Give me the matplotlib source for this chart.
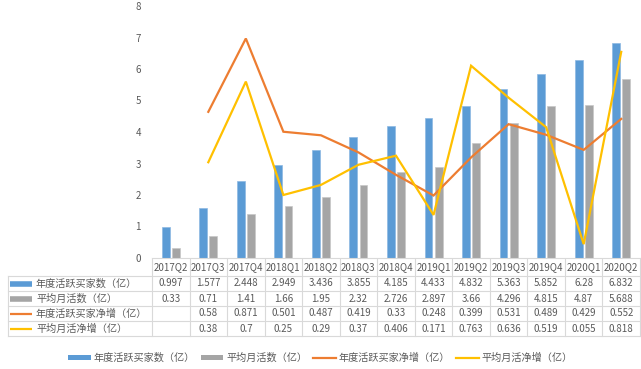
import matplotlib
matplotlib.use("Agg")
import matplotlib.pyplot as plt
import matplotlib.transforms as mtransforms
from matplotlib.lines import Line2D
from matplotlib.patches import Patch
import numpy as np

plt.rcParams['font.family'] = ['Noto Sans CJK SC', 'DejaVu Sans']

quarters = ["2017Q2", "2017Q3", "2017Q4", "2018Q1", "2018Q2", "2018Q3", "2018Q4",
            "2019Q1", "2019Q2", "2019Q3", "2019Q4", "2020Q1", "2020Q2"]
annual_buyers = [0.997, 1.577, 2.448, 2.949, 3.436, 3.855, 4.185, 4.433, 4.832, 5.363, 5.852, 6.28, 6.832]
monthly_active = [0.33, 0.71, 1.41, 1.66, 1.95, 2.32, 2.726, 2.897, 3.66, 4.296, 4.815, 4.87, 5.688]
buyers_net = [None, 0.58, 0.871, 0.501, 0.487, 0.419, 0.33, 0.248, 0.399, 0.531, 0.489, 0.429, 0.552]
mau_net = [None, 0.38, 0.7, 0.25, 0.29, 0.37, 0.406, 0.171, 0.763, 0.636, 0.519, 0.055, 0.818]
series_names = ["年度活跃买家数（亿）", "平均月活数（亿）", "年度活跃买家净增（亿）", "平均月活净增（亿）"]
y_ticks = [0, 1, 2, 3, 4, 5, 6, 7, 8]

c_blue = "#5B9BD5"
c_gray = "#A5A5A5"
c_orange = "#ED7D31"
c_yellow = "#FFC000"
txt = "#595959"
grid_c = "#D9D9D9"

W, H = 641, 369
fig = plt.figure(figsize=(W / 100, H / 100), dpi=100)

left_px, right_px, top_px, bottom_px = 152, 640, 6, 258
ax = fig.add_axes([left_px / W, 1 - bottom_px / H, (right_px - left_px) / W, (bottom_px - top_px) / H])
x = np.arange(len(quarters))
bw = 0.21
ax.bar(x - 0.135, annual_buyers, bw, color=c_blue, edgecolor="#8DB8E3", linewidth=0.5, zorder=2)
ax.bar(x + 0.135, monthly_active, bw, color=c_gray, edgecolor="#C8C8C8", linewidth=0.5, zorder=2)
ax.set_xlim(-0.5, len(quarters) - 0.5)
ax.set_ylim(0, 8)
ax.set_yticks(y_ticks)
ax.tick_params(axis='y', length=0, labelsize=7, colors=txt, pad=8)
ax.set_xticks([])
for s in ["top", "right", "left"]:
    ax.spines[s].set_visible(False)
ax.spines["bottom"].set_color(grid_c)
ax.spines["bottom"].set_linewidth(0.8)

ax2 = ax.twinx()
ax2.set_ylim(0, 1)
xs1 = [i for i, v in enumerate(buyers_net) if v is not None]
ys1 = [v for v in buyers_net if v is not None]
xs2 = [i for i, v in enumerate(mau_net) if v is not None]
ys2 = [v for v in mau_net if v is not None]
ax2.plot(xs1, ys1, color=c_orange, lw=1.6, zorder=3, solid_joinstyle="miter")
ax2.plot(xs2, ys2, color=c_yellow, lw=1.6, zorder=3, solid_joinstyle="miter")
ax2.axis("off")
ax2.set_xlim(-0.5, len(quarters) - 0.5)

# table overlay
ov = fig.add_axes([0, 0, 1, 1], zorder=-1)
ov.set_xlim(0, W)
ov.set_ylim(H, 0)
ov.axis("off")
tr = mtransforms.blended_transform_factory(ax.transData, ov.transData)

row_edges = [258, 276, 291, 306, 321, 336]
n = len(quarters)
# horizontal lines
for yy in row_edges[1:]:
    ov.plot([8, right_px], [yy, yy], color=grid_c, lw=0.8)
# vertical lines
ov.plot([8, 8], [row_edges[1], row_edges[-1]], color=grid_c, lw=0.8)
for i in range(n + 1):
    ov.plot([i - 0.5, i - 0.5], [row_edges[0], row_edges[-1]], color=grid_c, lw=0.8, transform=tr)

fs = 7
for i, q in enumerate(quarters):
    ov.text(i, (row_edges[0] + row_edges[1]) / 2, q, transform=tr, ha="center", va="center",
            fontsize=fs, color=txt)

rows = [annual_buyers, monthly_active, buyers_net, mau_net]
colors = [c_blue, c_gray, c_orange, c_yellow]
kinds = ["bar", "bar", "line", "line"]
for r, (vals, col, kind, name) in enumerate(zip(rows, colors, kinds, series_names)):
    yc = (row_edges[r + 1] + row_edges[r + 2]) / 2
    lw = 4 if kind == "bar" else 1.6
    ov.plot([10, 32], [yc, yc], color=col, lw=lw, solid_capstyle="butt")
    ov.text(36, yc, name, ha="left", va="center", fontsize=fs + 0.3, color=txt)
    for i, v in enumerate(vals):
        if v is None:
            continue
        ov.text(i, yc, f"{v:g}", transform=tr, ha="center", va="center", fontsize=fs, color=txt)

handles = [Patch(facecolor=c_blue, edgecolor="none"),
           Patch(facecolor=c_gray, edgecolor="none"),
           Line2D([], [], color=c_orange, lw=1.6),
           Line2D([], [], color=c_yellow, lw=1.6)]
fig.legend(handles, series_names, loc="center", bbox_to_anchor=(0.5, 1 - 358 / H), ncol=4,
           frameon=False, fontsize=fs + 0.3, labelcolor=txt, handlelength=2.2, handleheight=0.5,
           columnspacing=0.6, handletextpad=0.3)

fig.savefig("out.png", dpi=100)
